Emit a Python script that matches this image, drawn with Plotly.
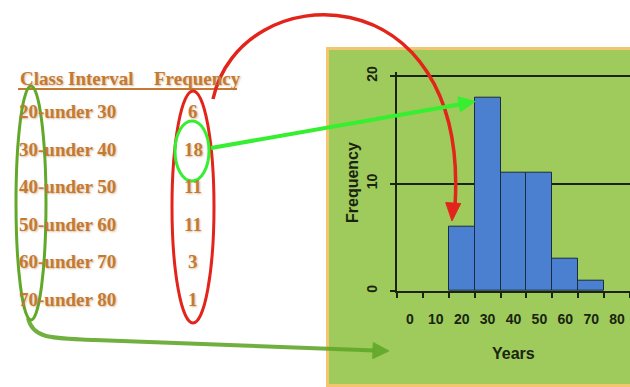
import math
import plotly.graph_objects as go

# ---------------- data ----------------
class_intervals = ["20-under 30", "30-under 40", "40-under 50",
                   "50-under 60", "60-under 70", "70-under 80"]
frequencies = [6, 18, 11, 11, 3, 1]
bar_categories = ["20", "30", "40", "50", "60", "70"]
axis_categories = ["0", "10", "20", "30", "40", "50", "60", "70", "80"]
y_ticks = [0, 10, 20]

W, H = 630, 387


def X(px):
    return px / W


def Y(py):
    return 1 - py / H


def P(points):
    return " ".join(f"{X(x):.5f},{Y(y):.5f}" for x, y in points)


def arrowhead(tip, direction, length, half):
    dx, dy = direction
    n = math.hypot(dx, dy)
    ux, uy = dx / n, dy / n
    bx, by = tip[0] - length * ux, tip[1] - length * uy
    nx, ny = -uy, ux
    p1 = (bx + half * nx, by + half * ny)
    p2 = (bx - half * nx, by - half * ny)
    return f"M {P([tip])} L {P([p1])} L {P([p2])} Z"


TEXT_ORANGE = "#c47a33"
AX_COL = "#1a2410"
RED = "#e3241b"
BRIGHT_GREEN = "#35ef30"
DARK_GREEN = "#62a82a"

fig = go.Figure()
fig.add_trace(go.Bar(
    x=bar_categories, y=frequencies,
    marker=dict(color="#4b7fcf", line=dict(color="#1b2b40", width=1)),
    showlegend=False, hoverinfo="skip",
))

axis_font = dict(family="Liberation Sans, Arial", size=14, color=AX_COL, weight=700)

Y_TOP = 20.4
PX_PER_UNIT = (291 - 76) / 20.0

fig.update_layout(
    width=W, height=H, autosize=False,
    margin=dict(l=0, r=0, t=0, b=0, pad=0, autoexpand=False),
    paper_bgcolor="white", plot_bgcolor="rgba(0,0,0,0)",
    bargap=0,
    xaxis=dict(
        domain=[X(397), 1.0], type="category",
        categoryorder="array", categoryarray=axis_categories,
        range=[-0.5, 8.5], tickson="boundaries", tickangle=0,
        ticks="outside", ticklen=5, tickcolor=AX_COL, tickwidth=1.5,
        showline=True, linecolor=AX_COL, linewidth=1.5,
        showgrid=False, zeroline=False,
        tickfont=axis_font, ticklabelstandoff=14,
    ),
    yaxis=dict(
        domain=[Y(291), Y(291 - Y_TOP * PX_PER_UNIT)], range=[0, Y_TOP],
        tickvals=y_ticks, tickangle=-90,
        ticks="outside", ticklen=5, tickcolor=AX_COL, tickwidth=1.5,
        showline=True, linecolor=AX_COL, linewidth=1.5,
        showgrid=True, gridcolor=AX_COL, gridwidth=1.5,
        zeroline=False,
        tickfont=dict(family="Liberation Sans, Arial", size=14, color=AX_COL, weight=700),
        ticklabelstandoff=8,
    ),
)

shapes = []
# green panel behind histogram
shapes.append(dict(type="rect", xref="paper", yref="paper", layer="below",
                   x0=X(327.5), x1=X(645), y0=Y(48.5), y1=Y(385.5),
                   fillcolor="#9ecb5b", line=dict(color="#f3c56f", width=3)))
# header underline
shapes.append(dict(type="line", xref="paper", yref="paper",
                   x0=X(18), x1=X(237), y0=Y(89), y1=Y(89),
                   line=dict(color=TEXT_ORANGE, width=2)))
# ellipses
shapes.append(dict(type="circle", xref="paper", yref="paper",
                   x0=X(16), x1=X(46), y0=Y(86), y1=Y(320),
                   line=dict(color=DARK_GREEN, width=3)))
shapes.append(dict(type="circle", xref="paper", yref="paper",
                   x0=X(172), x1=X(214), y0=Y(91), y1=Y(323),
                   line=dict(color=RED, width=3)))
shapes.append(dict(type="circle", xref="paper", yref="paper",
                   x0=X(175), x1=X(209), y0=Y(121), y1=Y(181),
                   line=dict(color=BRIGHT_GREEN, width=3)))
# red curved arrow
shapes.append(dict(type="path", xref="paper", yref="paper",
                   path=f"M {P([(213, 99)])} C {P([(240, -25)])} {P([(470, -30)])} {P([(455, 206)])}",
                   line=dict(color=RED, width=3.5)))
shapes.append(dict(type="path", xref="paper", yref="paper",
                   path=arrowhead((452, 221), (-4, 60), 18, 7.5),
                   fillcolor=RED, line=dict(color=RED, width=1)))
# bright green straight arrow
shapes.append(dict(type="path", xref="paper", yref="paper",
                   path=f"M {P([(211, 148)])} L {P([(462, 104)])}",
                   line=dict(color=BRIGHT_GREEN, width=4)))
shapes.append(dict(type="path", xref="paper", yref="paper",
                   path=arrowhead((475, 101.5), (263, -46), 16, 7.5),
                   fillcolor=BRIGHT_GREEN, line=dict(color=BRIGHT_GREEN, width=1)))
# dark green bottom arrow
shapes.append(dict(type="path", xref="paper", yref="paper", opacity=0.9,
                   path=f"M {P([(28, 318)])} C {P([(33, 340)])} {P([(55, 338)])} {P([(95, 340)])} L {P([(375, 350.5)])}",
                   line=dict(color=DARK_GREEN, width=4)))
shapes.append(dict(type="path", xref="paper", yref="paper", opacity=0.9,
                   path=arrowhead((389, 351), (1, 0.03), 16, 8),
                   fillcolor=DARK_GREEN, line=dict(color=DARK_GREEN, width=1)))
fig.update_layout(shapes=shapes)

serif = dict(family="Liberation Serif, Times New Roman, serif", size=19,
             color=TEXT_ORANGE, weight=700,
             shadow="1px 1px 2px rgba(170,110,50,0.45)")
ann = []
ann.append(dict(text="Class Interval", x=X(18), y=Y(78), xref="paper", yref="paper",
                xanchor="left", yanchor="middle", showarrow=False, font=serif))
ann.append(dict(text="Frequency", x=X(152), y=Y(78), xref="paper", yref="paper",
                xanchor="left", yanchor="middle", showarrow=False, font=serif))
for i, (ci, fq) in enumerate(zip(class_intervals, frequencies)):
    yy = 112 + i * 37.4
    ann.append(dict(text=ci, x=X(17), y=Y(yy), xref="paper", yref="paper",
                    xanchor="left", yanchor="middle", showarrow=False, font=serif))
    ann.append(dict(text=str(fq), x=X(193), y=Y(yy), xref="paper", yref="paper",
                    xanchor="center", yanchor="middle", showarrow=False, font=serif))
# axis titles
ann.append(dict(text="Frequency", x=X(353), y=Y(183), xref="paper", yref="paper",
                textangle=-90, xanchor="center", yanchor="middle", showarrow=False,
                font=dict(family="Liberation Sans, Arial", size=16, color=AX_COL, weight=700)))
ann.append(dict(text="Years", x=X(513), y=Y(353), xref="paper", yref="paper",
                xanchor="center", yanchor="middle", showarrow=False,
                font=dict(family="Liberation Sans, Arial", size=16,
                          color=AX_COL, weight=700)))
fig.update_layout(annotations=ann)

fig.write_html(
    "out.html",
    config={"displayModeBar": False},
    post_script="document.body.style.margin='0';document.body.style.padding='0';"
                "document.body.style.overflow='hidden';",
)
